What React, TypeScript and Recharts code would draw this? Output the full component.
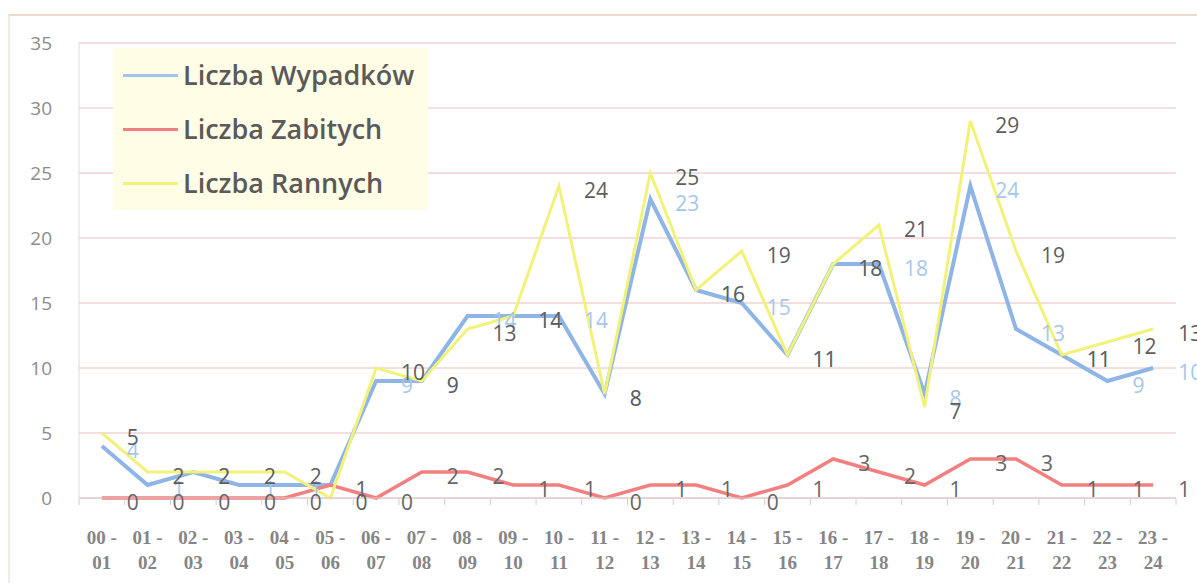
import React from 'react';
import { LineChart, Line, XAxis, YAxis, CartesianGrid, Legend, LabelList } from 'recharts';

const hours = [
  '00 - 01', '01 - 02', '02 - 03', '03 - 04', '04 - 05', '05 - 06', '06 - 07', '07 - 08',
  '08 - 09', '09 - 10', '10 - 11', '11 - 12', '12 - 13', '13 - 14', '14 - 15', '15 - 16',
  '16 - 17', '17 - 18', '18 - 19', '19 - 20', '20 - 21', '21 - 22', '22 - 23', '23 - 24',
];
const wypadki = [4, 1, 2, 1, 1, 1, 9, 9, 14, 14, 14, 8, 23, 16, 15, 11, 18, 18, 8, 24, 13, 11, 9, 10];
const zabici = [0, 0, 0, 0, 0, 1, 0, 2, 2, 1, 1, 0, 1, 1, 0, 1, 3, 2, 1, 3, 3, 1, 1, 1];
const ranni = [5, 2, 2, 2, 2, 0, 10, 9, 13, 14, 24, 8, 25, 16, 19, 11, 18, 21, 7, 29, 19, 11, 12, 13];
const yTicks = [0, 5, 10, 15, 20, 25, 30, 35];

const data = hours.map((h, i) => ({ h, w: wypadki[i], z: zabici[i], r: ranni[i] }));

const BLUE = '#8fb5e6';
const RED = '#f28080';
const YELLOW = '#f2f27a';

const W = 1197;
const H = 583;
const M = { top: 43, right: 21, bottom: 15, left: 0 };
const YW = 79;
const BAND = (W - M.left - M.right - YW) / hours.length;

const legendItems = [
  { name: 'Liczba Wypadków', color: '#a3c3ec' },
  { name: 'Liczba Zabitych', color: RED },
  { name: 'Liczba Rannych', color: YELLOW },
];

const makeLabel = (color: string) => (props: any) => {
  const { x, y, value } = props;
  return (
    <text x={x + 25} y={y + 4} fill={color} fontSize={21} fontFamily="Open Sans" dominantBaseline="central">
      {value}
    </text>
  );
};

const XTick = (props: any) => {
  const { x, y, payload, index } = props;
  const [a, b] = String(payload.value).split(' - ');
  return (
    <g>
      <line x1={x - BAND / 2} x2={x - BAND / 2} y1={y + 1} y2={y + 7} stroke="#c9cfdc" />
      {index === hours.length - 1 && (
        <line x1={x + BAND / 2} x2={x + BAND / 2} y1={y + 1} y2={y + 7} stroke="#c9cfdc" />
      )}
      <text x={x} y={y + 39} textAnchor="middle" dominantBaseline="central" fontFamily="Liberation Serif" fontWeight="bold" fontSize={19} fill="#858585">
        {a + ' -'}
      </text>
      <text x={x} y={y + 64} textAnchor="middle" dominantBaseline="central" fontFamily="Liberation Serif" fontWeight="bold" fontSize={19} fill="#858585">
        {b}
      </text>
    </g>
  );
};

const LegendBox = () => (
  <div style={{ width: 315, height: 162, background: '#fffde6' }}>
    {legendItems.map((it) => (
      <div key={it.name} style={{ height: 54, display: 'flex', alignItems: 'center', paddingLeft: 10 }}>
        <div style={{ width: 55, height: 3, background: it.color, marginRight: 5 }} />
        <span style={{ fontFamily: 'Open Sans', fontWeight: 600, fontSize: 27, color: '#5a5a5a', lineHeight: '30px', whiteSpace: 'nowrap' }}>
          {it.name}
        </span>
      </div>
    ))}
  </div>
);

export default function App() {
  return (
    <div style={{ position: 'absolute', left: 0, top: 0, width: W, height: H, background: '#fff', overflow: 'hidden' }}>
      <div
        style={{
          position: 'absolute', left: 8, top: 14, right: -4, bottom: -4,
          borderTop: '2px solid #ecdccb', borderLeft: '2px solid #ececdf',
        }}
      />
      <div style={{ position: 'absolute', left: 0, top: 0 }}>
        <LineChart width={W} height={H} data={data} margin={M}>
          <CartesianGrid vertical={false} stroke="#e8bcc0" />
          <XAxis
            dataKey="h"
            interval={0}
            height={70}
            padding={{ left: BAND / 2, right: BAND / 2 }}
            tickSize={0}
            tickMargin={0}
            tickLine={false}
            axisLine={{ stroke: '#d9cccc' }}
            tick={<XTick />}
          />
          <YAxis
            width={YW}
            domain={[0, 35]}
            ticks={yTicks}
            tickSize={0}
            tickMargin={27}
            tickLine={false}
            axisLine={{ stroke: '#dcdcdc' }}
            tick={{ fill: '#8c8c8c', fontSize: 19, fontFamily: 'Open Sans' }}
          />
          <Legend
            layout="vertical"
            align="center"
            verticalAlign="middle"
            content={<LegendBox />}
            wrapperStyle={{ position: 'absolute', left: 113, top: 48, width: 315, height: 162 }}
          />
          <Line type="linear" dataKey="w" stroke={BLUE} strokeWidth={4} dot={false} isAnimationActive={false}>
            <LabelList dataKey="w" content={makeLabel('#a7c7ea')} />
          </Line>
          <Line type="linear" dataKey="z" stroke={RED} strokeWidth={3.5} dot={false} isAnimationActive={false}>
            <LabelList dataKey="z" content={makeLabel('#666666')} />
          </Line>
          <Line type="linear" dataKey="r" stroke={YELLOW} strokeWidth={3} dot={false} isAnimationActive={false}>
            <LabelList dataKey="r" content={makeLabel('#5e5e5e')} />
          </Line>
        </LineChart>
      </div>
    </div>
  );
}
